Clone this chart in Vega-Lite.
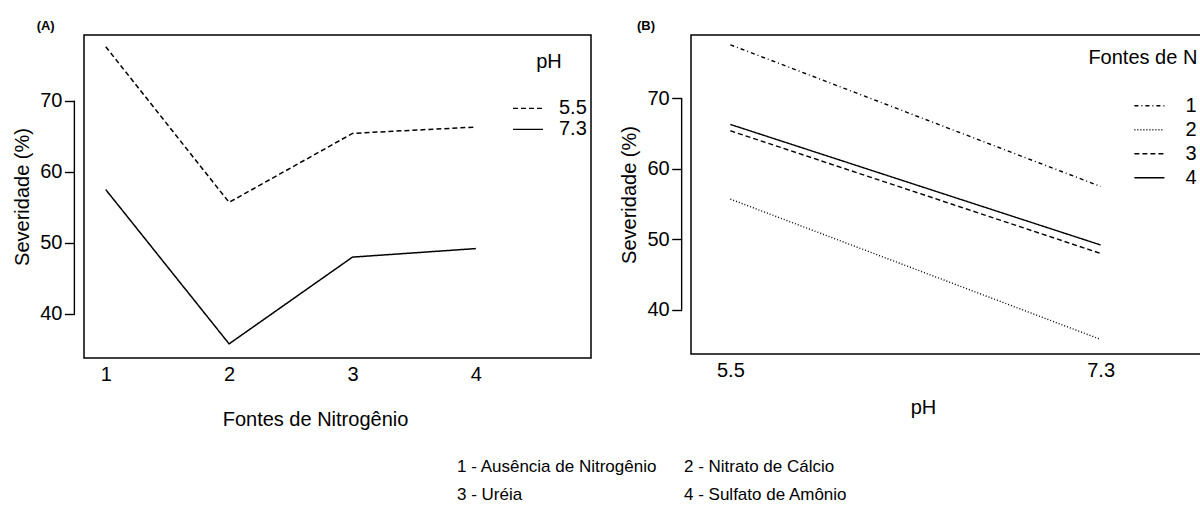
{
  "$schema": "https://vega.github.io/schema/vega-lite/v6.json",
  "background": "white",
  "padding": {"left": 11, "top": 19, "right": 0, "bottom": 0},
  "datasets": {
    "sev": [
      {"fonte": 1, "ph": 5.5, "sev": 77.6},
      {"fonte": 2, "ph": 5.5, "sev": 55.7},
      {"fonte": 3, "ph": 5.5, "sev": 65.4},
      {"fonte": 4, "ph": 5.5, "sev": 66.3},
      {"fonte": 1, "ph": 7.3, "sev": 57.5},
      {"fonte": 2, "ph": 7.3, "sev": 35.8},
      {"fonte": 3, "ph": 7.3, "sev": 48.0},
      {"fonte": 4, "ph": 7.3, "sev": 49.2}
    ],
    "notas": [
      {"texto": "1 - Ausência de Nitrogênio", "coluna": "a", "linha": "1"},
      {"texto": "2 - Nitrato de Cálcio", "coluna": "b", "linha": "1"},
      {"texto": "3 - Uréia", "coluna": "a", "linha": "2"},
      {"texto": "4 - Sulfato de Amônio", "coluna": "b", "linha": "2"}
    ]
  },
  "config": {
    "font": "Liberation Sans",
    "view": {"stroke": "black", "strokeWidth": 1.5},
    "axis": {
      "labelFontSize": 20,
      "labelColor": "black",
      "titleFontSize": 20,
      "titleFontWeight": "normal",
      "titleColor": "black",
      "grid": false,
      "tickColor": "black",
      "tickWidth": 1.4,
      "domain": false
    },
    "legend": {
      "labelFontSize": 20,
      "titleFontSize": 20,
      "titleFontWeight": "normal",
      "labelColor": "black",
      "titleColor": "black",
      "symbolType": "stroke",
      "symbolSize": 900,
      "symbolStrokeWidth": 1.4,
      "symbolStrokeColor": "black",
      "clipHeight": 20
    },
    "title": {"fontSize": 13, "fontWeight": "bold", "color": "black", "anchor": "start", "frame": "bounds"}
  },
  "spacing": 28,
  "vconcat": [
    {
      "spacing": 27,
      "resolve": {"scale": {"strokeDash": "independent"}, "legend": {"strokeDash": "independent"}},
      "hconcat": [
        {
          "width": 507,
          "height": 323,
          "title": {"text": "(A)", "dx": 24, "offset": 2},
          "data": {"name": "sev"},
          "layer": [
            {
              "mark": {"type": "line", "color": "black", "strokeWidth": 1.5},
              "encoding": {
                "x": {"field": "fonte", "type": "quantitative", "scale": {"domain": [0.824, 4.933], "nice": false, "zero": false},
                      "axis": {"values": [1, 2, 3, 4], "ticks": false, "labelPadding": 6, "title": "Fontes de Nitrogênio", "titlePadding": 25, "titleX": 231, "format": "d"}},
                "y": {"field": "sev", "type": "quantitative", "scale": {"domain": [33.81, 79.24], "nice": false, "zero": false},
                      "axis": {"values": [40, 50, 60, 70], "offset": 9.6, "tickSize": 10, "labelPadding": 2.5, "title": "Severidade (%)", "titlePadding": 7}},
                "strokeDash": {"field": "ph", "type": "nominal", "scale": {"domain": [5.5, 7.3], "range": [[5, 3], [1, 0]]},
                               "legend": {"orient": "none", "legendX": 428, "legendY": 17.4, "title": "pH", "titleAnchor": "middle", "titlePadding": 26, "rowPadding": 1, "labelOffset": 15}}
              }
            },
            {
              "data": {"values": [{"eixo": "y"}]},
              "mark": {"type": "rule", "color": "black", "strokeWidth": 1.4},
              "encoding": {"x": {"datum": 0.746}, "y": {"datum": 40}, "y2": {"datum": 70}}
            }
          ]
        },
        {
          "width": 510,
          "height": 319,
          "title": {"text": "(B)", "dx": 17, "offset": 2},
          "data": {"name": "sev"},
          "layer": [
            {
              "mark": {"type": "line", "color": "black", "strokeWidth": 1.4},
              "encoding": {
                "x": {"field": "ph", "type": "quantitative", "scale": {"domain": [5.3085, 7.788], "nice": false, "zero": false},
                      "axis": {"values": [5.5, 7.3], "ticks": false, "labelPadding": 6, "title": "pH", "titlePadding": 17, "titleX": 232, "format": ".1f"}},
                "y": {"field": "sev", "type": "quantitative", "scale": {"domain": [33.73, 78.99], "nice": false, "zero": false},
                      "axis": {"values": [40, 50, 60, 70], "offset": 9.3, "tickSize": 10, "labelPadding": 2.5, "title": "Severidade (%)", "titlePadding": 7}},
                "strokeDash": {"field": "fonte", "type": "nominal", "scale": {"domain": [1, 2, 3, 4], "range": [[4, 3, 1, 3], [1, 2], [5, 3], [1, 0]]},
                               "legend": {"orient": "none", "legendX": 397.4, "legendY": 12.7, "title": "Fontes de N", "titlePadding": 28, "rowPadding": 4, "labelOffset": 20, "symbolOffset": 45}}
              }
            },
            {
              "data": {"values": [{"eixo": "y"}]},
              "mark": {"type": "rule", "color": "black", "strokeWidth": 1.4},
              "encoding": {"x": {"datum": 5.263}, "y": {"datum": 40}, "y2": {"datum": 70}}
            }
          ]
        }
      ]
    },
    {
      "width": 827,
      "height": 28,
      "view": {"stroke": null},
      "data": {"name": "notas"},
      "mark": {"type": "text", "align": "left", "baseline": "middle", "fontSize": 17, "color": "black"},
      "encoding": {
        "x": {"field": "coluna", "type": "nominal", "bandPosition": 0, "scale": {"type": "band", "paddingInner": 0, "paddingOuter": 0.8216, "align": 1}, "axis": null},
        "y": {"field": "linha", "type": "nominal", "scale": {"type": "point", "padding": 0}, "axis": null},
        "text": {"field": "texto"}
      }
    }
  ]
}
